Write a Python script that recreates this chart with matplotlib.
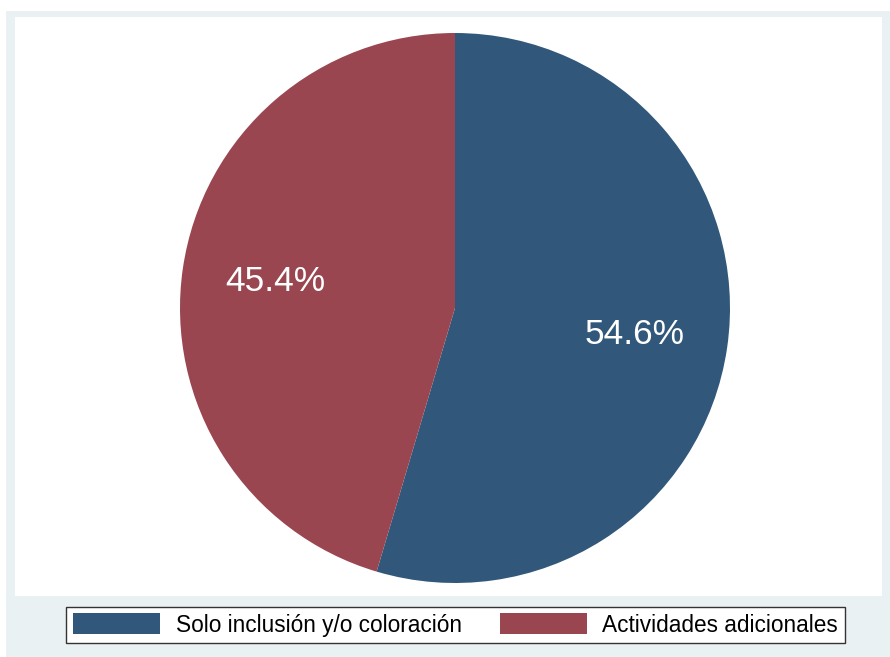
import matplotlib.pyplot as plt
from matplotlib.patches import Rectangle

labels = ["Solo inclusión y/o coloración", "Actividades adicionales"]
shares = [54.6, 45.4]
colors = ["#31587b", "#9a4650"]

plt.rcParams['font.family'] = ['Liberation Sans', 'DejaVu Sans']

fig = plt.figure(figsize=(8.9, 6.57), dpi=100)
W, H = 890, 657

# graph region (light) and plot region (white)
fig.patches.append(Rectangle((6 / W, 0), 1 - 6 / W, 1 - 11 / H, transform=fig.transFigure,
                             facecolor="#eaf1f2", edgecolor="none", zorder=-2))
fig.patches.append(Rectangle((15 / W, 1 - 596 / H), 867 / W, (596 - 17) / H,
                             transform=fig.transFigure, facecolor="white",
                             edgecolor="none", zorder=-1))

ax = fig.add_axes([180 / W, 74 / H, 550 / W, 550 / H])
ax.set_zorder(1)
ax.patch.set_visible(False)
wedges, texts, autotexts = ax.pie(shares, colors=colors, startangle=90, counterclock=False,
                                  autopct="%.1f%%", pctdistance=0.66,
                                  textprops=dict(color="white", fontsize=25.5))
ax.set_xlim(-1, 1)
ax.set_ylim(-1, 1)
ax.set_aspect("equal")

leg = fig.legend(wedges, labels, ncol=2, loc="center",
                 bbox_to_anchor=(455.5 / W, 1 - 625 / H), fontsize=16.3,
                 frameon=True, fancybox=False, edgecolor="#333333",
                 facecolor="white", framealpha=1,
                 handlelength=3.85, handleheight=1.05, handletextpad=0.68,
                 columnspacing=1.67, borderpad=0.3)
leg.get_frame().set_linewidth(1.0)
leg.set_zorder(2)

fig.savefig("out.png", dpi=100)
